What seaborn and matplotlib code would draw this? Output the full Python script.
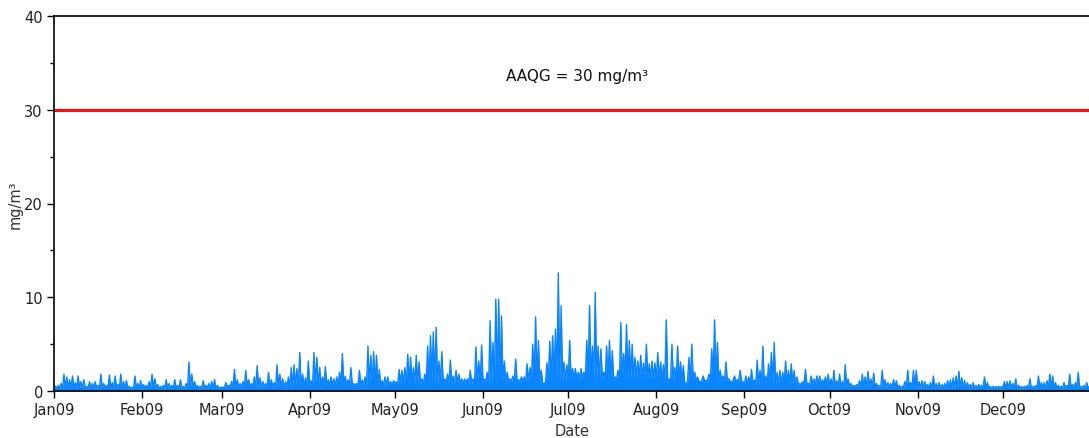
import matplotlib
matplotlib.use("Agg")
import numpy as np
import pandas as pd
import matplotlib.pyplot as plt
import matplotlib.dates as mdates
from matplotlib.ticker import MultipleLocator, FixedLocator
import seaborn as sns

# ---- data: daily peak concentrations (mg/m³) ----
jan = [0.5, 0.6, 0.8, 1.8, 1.5, 1.2, 1.6, 0.9, 1.6, 1.0, 1.2, 0.5, 1.0, 0.8, 1.0, 0.6,
       1.8, 0.8, 0.6, 1.7, 0.9, 1.6, 0.7, 1.8, 1.0, 1.1, 0.5, 0.4, 1.6, 0.8, 1.1]
feb = [0.7, 0.6, 1.0, 1.8, 1.3, 0.7, 0.5, 0.6, 1.2, 0.8, 0.6, 1.2, 0.6, 1.2, 0.5, 0.8,
       3.1, 1.8, 1.0, 0.6, 0.5, 1.1, 0.6, 0.8, 1.0, 1.2, 0.6, 0.4]
mar = [0.4, 0.9, 0.6, 1.0, 2.3, 1.2, 0.8, 1.0, 2.2, 1.2, 0.8, 1.5, 2.7, 1.4, 1.0, 0.8,
       2.0, 1.2, 0.9, 2.8, 1.8, 1.3, 1.0, 1.5, 2.5, 2.8, 2.4, 4.1, 1.8, 1.4, 3.2]
apr = [1.1, 4.1, 3.6, 2.5, 1.5, 2.6, 1.2, 1.5, 1.3, 1.5, 2.0, 4.0, 1.6, 1.2, 2.5, 0.8,
       0.8, 2.2, 1.2, 1.5, 4.8, 3.8, 4.2, 3.8, 2.3, 1.1, 1.5, 1.5, 1.0, 1.1]
may = [1.0, 2.3, 2.2, 2.5, 3.9, 3.6, 2.5, 3.8, 3.1, 1.3, 1.8, 4.8, 5.9, 6.3, 6.8, 3.2,
       4.2, 1.3, 1.8, 3.3, 1.6, 2.2, 1.8, 1.3, 1.3, 1.3, 2.2, 1.3, 4.7, 3.2, 4.9]
jun = [1.3, 2.0, 7.5, 5.2, 9.8, 9.8, 8.0, 3.2, 2.0, 1.3, 1.6, 3.4, 1.2, 1.5, 1.5, 2.9,
       2.5, 5.0, 7.9, 5.4, 2.2, 0.8, 3.0, 5.3, 5.9, 6.6, 12.6, 9.1, 3.1, 2.8]
jul = [5.4, 2.4, 2.4, 2.0, 2.4, 2.0, 5.4, 9.1, 4.8, 10.5, 4.8, 4.5, 2.0, 4.8, 5.4, 4.3,
       1.5, 2.2, 7.3, 4.0, 7.1, 5.4, 5.0, 3.6, 3.2, 3.8, 3.0, 5.0, 2.9, 3.2, 3.0]
aug = [4.1, 3.1, 2.8, 7.6, 1.3, 5.0, 2.5, 4.8, 3.1, 2.7, 0.8, 3.6, 5.0, 2.0, 1.5, 1.0,
       1.6, 1.1, 1.8, 4.5, 7.6, 5.2, 2.2, 1.6, 3.1, 1.3, 1.0, 1.6, 1.2, 2.2, 1.0]
sep = [1.6, 1.5, 2.3, 1.2, 3.3, 2.2, 4.8, 1.6, 2.9, 4.1, 5.2, 2.0, 2.2, 2.0, 3.2, 2.2,
       2.9, 2.2, 1.5, 0.8, 1.0, 2.3, 0.8, 1.6, 1.3, 1.6, 1.6, 1.2, 1.5, 1.8]
oct_ = [1.3, 2.2, 1.1, 1.8, 1.0, 2.8, 1.3, 0.8, 0.6, 0.7, 1.1, 1.8, 1.5, 2.1, 1.3, 1.9,
        0.8, 0.6, 2.2, 1.2, 0.9, 0.8, 1.2, 1.1, 0.6, 0.5, 1.0, 2.2, 0.9, 2.2, 2.2]
nov = [1.0, 1.1, 1.0, 0.7, 0.9, 1.6, 0.8, 0.9, 0.7, 0.8, 1.1, 1.2, 1.4, 1.6, 2.1, 1.4,
       1.1, 0.9, 0.7, 0.9, 0.6, 0.7, 0.6, 1.5, 0.9, 0.5, 0.5, 0.5, 0.5, 0.5]
dec = [1.0, 1.0, 1.1, 0.8, 1.3, 0.6, 0.5, 0.5, 0.6, 1.3, 0.5, 0.6, 1.6, 0.9, 0.9, 1.1,
       1.8, 1.6, 0.9, 0.6, 0.5, 0.9, 0.6, 1.8, 0.7, 0.9, 2.0, 0.5, 0.6, 0.9, 0.5]

# typical night-time baseline level for each month
monthly_low = [0.3, 0.3, 0.4, 0.6, 0.8, 1.0, 1.3, 1.1, 0.7, 0.4, 0.3, 0.3]

aaqg = 30
aaqg_label = "AAQG = 30 mg/m³"
y_label = "mg/m³"
x_label = "Date"

# ---- build the half-daily series ----
daily_peak = jan + feb + mar + apr + may + jun + jul + aug + sep + oct_ + nov + dec
days = pd.date_range("2009-01-01", periods=len(daily_peak), freq="D")
times, vals = [], []
for d, pk in zip(days, daily_peak):
    times.append(d)
    vals.append(min(monthly_low[d.month - 1], pk))
    times.append(d + pd.Timedelta(hours=12))
    vals.append(pk)
times.append(pd.Timestamp("2010-01-01"))
vals.append(monthly_low[-1])
df = pd.DataFrame({"Date": times, "conc": vals})

# ---- plot ----
sns.set_style("ticks")
plt.rcParams["font.family"] = ["DejaVu Sans"]

blue = "#0a84ff"
fig = plt.figure(figsize=(10.89, 4.39), dpi=100)
ax = fig.add_axes([54 / 1089, 1 - 392 / 439, 1037 / 1089, 375 / 439])

ax.fill_between(df["Date"], 0, df["conc"], color=blue, lw=0)
sns.lineplot(data=df, x="Date", y="conc", color=blue, lw=1.0, ax=ax)
ax.axhline(aaqg, color="#ff0a0a", lw=2.2)

ax.text(pd.Timestamp("2009-07-04"), 33.6, aaqg_label, ha="center", va="center",
        fontsize=11, color="#111111")

ax.set_xlim(pd.Timestamp("2009-01-01"), pd.Timestamp("2010-01-01"))
ax.set_ylim(0, 40)
month_starts = pd.date_range("2009-01-01", periods=12, freq="MS")
ax.xaxis.set_major_locator(FixedLocator(mdates.date2num(month_starts)))
ax.xaxis.set_major_formatter(mdates.DateFormatter("%b%y"))
ax.yaxis.set_major_locator(MultipleLocator(10))
ax.yaxis.set_minor_locator(MultipleLocator(5))

ax.tick_params(axis="both", which="major", length=5, width=1, color="black",
               labelsize=10.5, labelcolor="#222222", pad=3)
ax.tick_params(axis="y", which="minor", length=3, width=1, color="black")

ax.set_xlabel(x_label, fontsize=10.5, color="#333333", labelpad=4)
ax.set_ylabel(y_label, fontsize=10.5, color="#333333", labelpad=1)

for s in ["left", "bottom", "top"]:
    ax.spines[s].set_visible(True)
    ax.spines[s].set_color("black")
    ax.spines[s].set_linewidth(1.2)
ax.spines["right"].set_visible(False)

fig.savefig("out.png", dpi=100)
